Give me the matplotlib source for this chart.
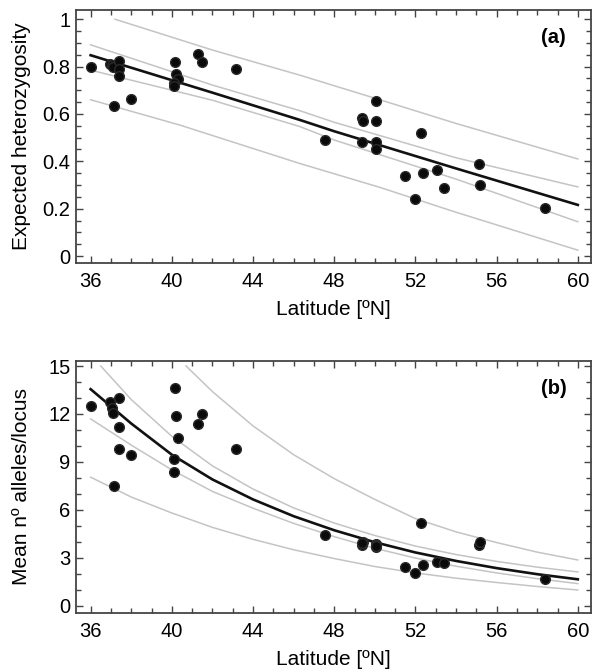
import matplotlib
matplotlib.use('Agg')
import matplotlib.pyplot as plt
from matplotlib.ticker import MultipleLocator

plt.rcParams['font.family'] = ['Liberation Sans', 'DejaVu Sans']

# sampled populations (same sites in both panels)
latitude = [36.0, 36.95, 37.05, 37.12, 37.17, 37.38, 37.4, 37.4, 37.99,
            40.15, 40.2, 40.28, 40.12, 40.12, 41.27, 41.47, 43.15,
            47.55, 49.35, 49.43, 49.35, 50.06, 50.06, 50.06, 50.06,
            51.49, 52.0, 52.26, 52.36, 53.05, 53.42, 55.12, 55.2, 58.4]
heterozygosity = [0.80, 0.81, 0.805, 0.80, 0.632, 0.824, 0.79, 0.76, 0.662,
                  0.821, 0.769, 0.748, 0.73, 0.72, 0.853, 0.821, 0.789,
                  0.488, 0.582, 0.572, 0.481, 0.653, 0.571, 0.481, 0.452,
                  0.340, 0.239, 0.519, 0.351, 0.362, 0.288, 0.389, 0.302, 0.201]
alleles = [12.52, 12.74, 12.36, 12.05, 7.51, 12.98, 11.21, 9.79, 9.44,
           13.61, 11.84, 10.52, 9.19, 8.39, 11.38, 12.0, 9.81,
           4.43, 3.8, 4.0, 3.9, 3.85, 3.7, 3.8, 3.75,
           2.40, 2.07, 5.16, 2.53, 2.72, 2.69, 3.8, 3.97, 1.65]

# panel (a): fit, confidence band and prediction band
fit_a_x = [36, 42, 46.3, 48, 54, 60]
fit_a = [0.848, 0.69, 0.575, 0.527, 0.37, 0.216]
ci_a_x = [36, 42, 46.3, 48, 54, 60]
ci_a_hi = [0.892, 0.722, 0.614, 0.565, 0.415, 0.292]
ci_a_lo = [0.785, 0.658, 0.547, 0.49, 0.325, 0.145]
pi_a_hi_x = [37.2, 42, 46.3, 50.25, 54, 60]
pi_a_hi = [1.0, 0.87, 0.764, 0.66, 0.56, 0.41]
pi_a_lo_x = [36, 40.4, 46.3, 50.25, 54, 60]
pi_a_lo = [0.66, 0.553, 0.391, 0.29, 0.185, 0.025]

# panel (b)
lat_b = [36, 38, 40, 42, 44, 46, 48, 50, 52, 54, 56, 58, 60]
fit_b = [13.55, 11.4, 9.45, 7.9, 6.65, 5.6, 4.72, 3.97, 3.33, 2.8, 2.35, 1.97, 1.65]
ci_b_lo = [11.69, 10.05, 8.5, 7.15, 6.1, 5.15, 4.32, 3.59, 2.98, 2.47, 2.05, 1.69, 1.38]
pi_b_lo = [8.04, 6.8, 5.8, 4.9, 4.15, 3.5, 2.95, 2.45, 2.05, 1.72, 1.45, 1.2, 0.98]
ci_b_hi_x = [36.5, 38, 40, 42, 44, 46, 48, 50, 52, 54, 56, 58, 60]
ci_b_hi = [15.0, 12.9, 10.6, 8.75, 7.3, 6.12, 5.17, 4.39, 3.73, 3.2, 2.77, 2.41, 2.11]
pi_b_hi_x = [40.7, 42, 44, 46, 48, 50, 52, 54, 56, 58, 60]
pi_b_hi = [15.0, 13.4, 11.25, 9.45, 7.95, 6.65, 5.45, 4.62, 3.95, 3.35, 2.86]

fig = plt.figure(figsize=(5.92, 6.71), dpi=100)
ax1 = fig.add_axes([0.1284, 0.6085, 0.8699, 0.3766])
ax2 = fig.add_axes([0.1284, 0.0869, 0.8699, 0.3755])

band = dict(color='#c4c4c4', lw=1.1, zorder=1)
dots = dict(marker='o', ls='none', ms=7, color='#0a0a0a', mec='#2a2a2a', zorder=3)

ax1.plot(pi_a_hi_x, pi_a_hi, **band)
ax1.plot(pi_a_lo_x, pi_a_lo, **band)
ax1.plot(ci_a_x, ci_a_hi, **band)
ax1.plot(ci_a_x, ci_a_lo, **band)
ax1.plot(fit_a_x, fit_a, color='#111111', lw=1.9, zorder=2)
ax1.plot(latitude, heterozygosity, **dots)

ax2.plot(pi_b_hi_x, pi_b_hi, **band)
ax2.plot(lat_b, pi_b_lo, **band)
ax2.plot(ci_b_hi_x, ci_b_hi, **band)
ax2.plot(lat_b, ci_b_lo, **band)
ax2.plot(lat_b, fit_b, color='#111111', lw=1.9, zorder=2)
ax2.plot(latitude, alleles, **dots)

ax1.set_ylim(-0.028, 1.039)
ax1.set_yticks([0, 0.2, 0.4, 0.6, 0.8, 1])
ax1.set_yticklabels(['0', '0.2', '0.4', '0.6', '0.8', '1'])
ax1.yaxis.set_minor_locator(MultipleLocator(0.05))
ax1.set_ylabel('Expected heterozygosity', fontsize=15)
ax1.text(0.927, 0.891, '(a)', transform=ax1.transAxes, ha='center', va='center',
         fontsize=14.5, fontweight='bold')

ax2.set_ylim(-0.44, 15.33)
ax2.set_yticks([0, 3, 6, 9, 12, 15])
ax2.yaxis.set_minor_locator(MultipleLocator(1))
ax2.set_ylabel('Mean nº alleles/locus', fontsize=15)
ax2.text(0.927, 0.891, '(b)', transform=ax2.transAxes, ha='center', va='center',
         fontsize=14.5, fontweight='bold')

for ax in (ax1, ax2):
    ax.set_xlim(35.28, 60.65)
    ax.set_xticks([36, 40, 44, 48, 52, 56, 60])
    ax.xaxis.set_minor_locator(MultipleLocator(1))
    ax.set_xlabel('Latitude [ºN]', fontsize=15, labelpad=6)
    ax.tick_params(which='both', direction='in', top=True, right=True,
                   color='#444444', labelsize=14.5)
    ax.tick_params(which='major', length=5, width=1)
    ax.tick_params(which='minor', length=3.5, width=1)
    ax.tick_params(axis='x', pad=7)
    ax.tick_params(axis='y', pad=4)
    for s in ax.spines.values():
        s.set_color('#444444')
        s.set_linewidth(1.3)
    ax.yaxis.set_label_coords(-0.088, 0.5)

fig.savefig('out.png', dpi=100)
